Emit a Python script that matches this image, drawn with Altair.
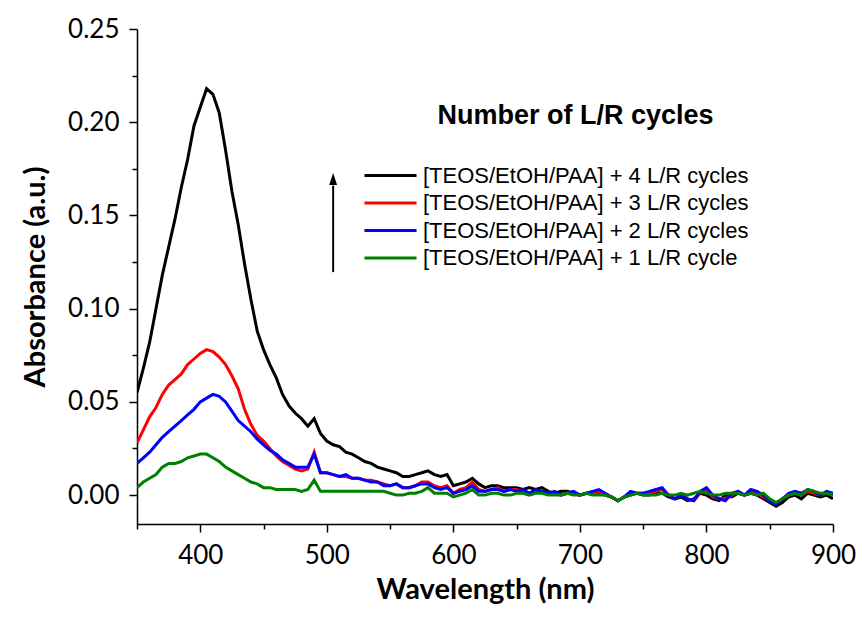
import altair as alt
import pandas as pd

# Wavelength grid (nm)
wavelength = list(range(350, 905, 5))

# Absorbance values (a.u.)
cycles4 = [0.055, 0.068, 0.082, 0.100, 0.118, 0.133, 0.148, 0.165, 0.180, 0.198,
           0.208, 0.218, 0.215, 0.205, 0.185, 0.163, 0.145, 0.124, 0.105, 0.088,
           0.078, 0.070, 0.063, 0.054, 0.048, 0.044, 0.041, 0.037, 0.041, 0.033,
           0.029, 0.027, 0.026, 0.023, 0.022, 0.020, 0.018, 0.017, 0.015, 0.014,
           0.013, 0.012, 0.010, 0.010, 0.011, 0.012, 0.013, 0.011, 0.010, 0.011,
           0.005, 0.006, 0.007, 0.009, 0.006, 0.004, 0.005, 0.005, 0.004, 0.004,
           0.004, 0.003, 0.004, 0.003, 0.004, 0.002, 0.001, 0.002, 0.002, 0.001,
           0.000, 0.001, 0.001, 0.001, 0.000, -0.001, -0.003, -0.001, 0.000, 0.001,
           0.000, 0.000, 0.001, 0.001, -0.001, -0.002, -0.001, -0.003, -0.002, 0.001,
           0.000, -0.002, -0.003, 0.000, -0.001, 0.001, 0.000, 0.001, 0.000, -0.002,
           -0.004, -0.006, -0.004, -0.001, 0.000, -0.002, 0.001, 0.000, -0.001, 0.000,
           -0.002]
cycles3 = [0.028, 0.035, 0.042, 0.047, 0.054, 0.059, 0.062, 0.065, 0.070, 0.073,
           0.076, 0.078, 0.077, 0.074, 0.070, 0.064, 0.057, 0.046, 0.038, 0.032,
           0.029, 0.025, 0.021, 0.018, 0.016, 0.014, 0.013, 0.014, 0.023, 0.012,
           0.012, 0.011, 0.010, 0.010, 0.009, 0.009, 0.008, 0.008, 0.007, 0.006,
           0.005, 0.006, 0.004, 0.004, 0.005, 0.007, 0.007, 0.005, 0.004, 0.005,
           0.001, 0.003, 0.004, 0.007, 0.003, 0.002, 0.003, 0.004, 0.002, 0.003,
           0.003, 0.002, 0.001, 0.002, 0.002, 0.001, 0.001, 0.000, 0.001, 0.001,
           0.000, 0.001, 0.001, 0.002, 0.000, -0.001, -0.003, -0.001, 0.001, 0.001,
           0.001, 0.001, 0.002, 0.003, 0.000, -0.002, 0.000, -0.002, -0.003, 0.001,
           0.003, -0.001, -0.002, -0.002, 0.000, 0.002, 0.000, 0.002, 0.001, -0.001,
           -0.003, -0.005, -0.002, 0.000, 0.001, 0.000, 0.002, 0.001, 0.000, 0.001,
           0.000]
cycles2 = [0.017, 0.020, 0.023, 0.027, 0.031, 0.034, 0.037, 0.040, 0.043, 0.046,
           0.050, 0.052, 0.054, 0.053, 0.050, 0.045, 0.040, 0.037, 0.034, 0.030,
           0.027, 0.024, 0.022, 0.019, 0.017, 0.015, 0.015, 0.015, 0.022, 0.012,
           0.012, 0.011, 0.010, 0.011, 0.009, 0.009, 0.008, 0.007, 0.007, 0.005,
           0.005, 0.006, 0.004, 0.004, 0.005, 0.006, 0.006, 0.004, 0.003, 0.004,
           0.001, 0.002, 0.003, 0.005, 0.002, 0.002, 0.003, 0.003, 0.002, 0.003,
           0.002, 0.003, 0.001, 0.003, 0.002, 0.001, 0.002, 0.000, 0.001, 0.002,
           0.000, 0.001, 0.002, 0.003, 0.001, -0.001, -0.003, -0.001, 0.002, 0.001,
           0.001, 0.002, 0.003, 0.004, 0.000, -0.002, 0.000, -0.002, -0.003, 0.002,
           0.004, 0.000, -0.002, -0.003, 0.001, 0.002, 0.000, 0.003, 0.002, 0.000,
           -0.003, -0.005, -0.002, 0.001, 0.002, 0.001, 0.003, 0.002, 0.000, 0.002,
           0.001]
cycles1 = [0.004, 0.007, 0.009, 0.011, 0.015, 0.017, 0.017, 0.018, 0.020, 0.021,
           0.022, 0.022, 0.020, 0.018, 0.015, 0.013, 0.011, 0.009, 0.007, 0.006,
           0.004, 0.004, 0.003, 0.003, 0.003, 0.003, 0.002, 0.003, 0.008, 0.002,
           0.002, 0.002, 0.002, 0.002, 0.002, 0.002, 0.002, 0.002, 0.002, 0.002,
           0.001, 0.000, 0.000, 0.001, 0.001, 0.002, 0.004, 0.001, 0.001, 0.001,
           -0.001, 0.000, 0.001, 0.003, 0.000, 0.000, 0.001, 0.001, 0.000, 0.000,
           0.001, 0.001, 0.000, 0.001, 0.001, 0.000, 0.000, 0.000, 0.001, 0.000,
           0.000, 0.001, 0.000, 0.000, 0.000, -0.001, -0.003, -0.001, 0.000, 0.001,
           0.000, 0.000, 0.000, 0.001, 0.000, 0.000, 0.001, 0.000, 0.001, 0.002,
           0.001, 0.000, 0.000, 0.001, 0.001, 0.001, 0.000, 0.001, 0.000, 0.001,
           -0.002, -0.004, -0.002, 0.000, 0.001, 0.000, 0.003, 0.002, 0.001, 0.001,
           0.000]

series_names = [
    "[TEOS/EtOH/PAA] + 4 L/R cycles",
    "[TEOS/EtOH/PAA] + 3 L/R cycles",
    "[TEOS/EtOH/PAA] + 2 L/R cycles",
    "[TEOS/EtOH/PAA] + 1 L/R cycle",
]
series_colors = ["#000000", "#ff0000", "#0000ff", "#008000"]
series_values = [cycles4, cycles3, cycles2, cycles1]

x_major = [400, 500, 600, 700, 800, 900]
x_minor = [350, 450, 550, 650, 750, 850]
y_major = [0.0, 0.05, 0.10, 0.15, 0.20, 0.25]
y_minor = [0.025, 0.075, 0.125, 0.175, 0.225]

legend_title = ["Number of L/R cycles"]
legend_title_x = [696.5]
legend_title_y = [0.2035]

# Arrow annotation (data coordinates)
arrow_x = [505]
arrow_y = [0.1196]
arrow_y2 = [0.166]
arrow_head_y = [0.1695]

rows = []
for name, vals in zip(series_names, series_values):
    for order_i, (w, a) in enumerate(zip(wavelength, vals)):
        rows.append({"wl": w, "A": a, "series": name, "o": order_i})
df = pd.DataFrame(rows)

xscale = alt.Scale(domain=[350, 900], nice=False, zero=False)
yscale = alt.Scale(domain=[-0.0155, 0.25], nice=False, zero=False)

lines = alt.Chart(df).mark_line(strokeWidth=3, clip=True).encode(
    x=alt.X("wl:Q", scale=xscale,
            axis=alt.Axis(values=x_major, title="Wavelength (nm)", format="d",
                          tickSize=8, labelPadding=10, titlePadding=7,
                          labelFlush=False)),
    y=alt.Y("A:Q", scale=yscale,
            axis=alt.Axis(values=y_major, title="Absorbance (a.u.)", format=".2f",
                          tickSize=8, labelPadding=10, titlePadding=17,
                          labelFlush=False)),
    color=alt.Color("series:N",
                    scale=alt.Scale(domain=series_names, range=series_colors),
                    legend=alt.Legend(title=None, orient="none",
                                      legendX=240, legendY=133)),
    order="o:Q",
)

minor = alt.Chart(df).mark_point(opacity=0).encode(
    x=alt.X("wl:Q", scale=xscale,
            axis=alt.Axis(values=x_minor, labels=False, title=None, tickSize=5,
                          domain=False, orient="bottom")),
    y=alt.Y("A:Q", scale=yscale,
            axis=alt.Axis(values=y_minor, labels=False, title=None, tickSize=5,
                          domain=False, orient="left")),
)

title_df = pd.DataFrame({"x": legend_title_x, "y": legend_title_y, "t": legend_title})
title_text = alt.Chart(title_df).mark_text(
    font="Liberation Sans", fontSize=27, fontWeight="bold", color="black",
    align="center", baseline="middle"
).encode(
    x=alt.X("x:Q", scale=xscale, axis=None),
    y=alt.Y("y:Q", scale=yscale, axis=None),
    text="t:N",
)

arrow_df = pd.DataFrame({"x": arrow_x, "y": arrow_y, "y2": arrow_y2, "yh": arrow_head_y})
arrow_line = alt.Chart(arrow_df).mark_rule(color="black", strokeWidth=2).encode(
    x=alt.X("x:Q", scale=xscale, axis=None),
    y=alt.Y("y:Q", scale=yscale, axis=None),
    y2="y2:Q",
)
arrow_head = alt.Chart(arrow_df).mark_point(
    shape="M0,-0.5L0.33,0.5L-0.33,0.5Z", size=576, filled=True, color="black", opacity=1
).encode(
    x=alt.X("x:Q", scale=xscale, axis=None),
    y=alt.Y("yh:Q", scale=yscale, axis=None),
)

chart = alt.layer(lines, minor, title_text, arrow_line, arrow_head).resolve_axis(
    x="independent", y="independent"
).properties(
    width=696, height=495,
    autosize=alt.AutoSizeParams(type="none"),
    padding={"left": 129, "top": 21, "right": 24, "bottom": 86},
).configure_view(stroke=None).configure_axis(
    labelFont="Lato", labelFontSize=26, labelColor="black",
    titleFont="Lato", titleFontSize=29, titleFontWeight="bold", titleColor="black",
    domainColor="black", domainWidth=1.5, tickColor="black", tickWidth=1.5,
    grid=False,
).configure_legend(
    labelFont="Liberation Sans", labelFontSize=22, labelColor="black",
    labelLimit=500, symbolType="M-2.17,0H2.17", symbolSize=576, symbolStrokeWidth=3,
    labelOffset=19, rowPadding=2.5, padding=0,
)

chart.save("out.html", embed_options={"renderer": "svg", "actions": False})
